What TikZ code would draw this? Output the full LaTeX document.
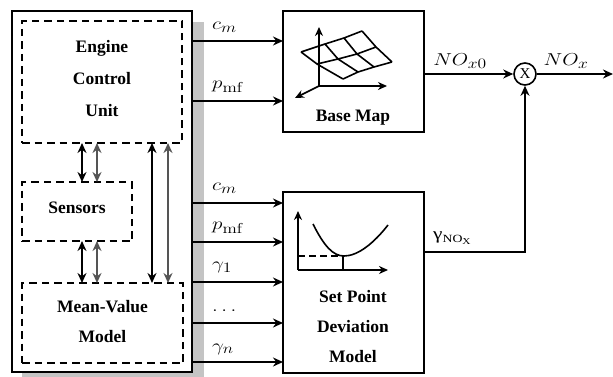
\documentclass[tikz,border=0pt]{standalone}
\usepackage[no-math]{fontspec}
\usepackage{graphicx}
\setmainfont{Liberation Serif}
\DeclareMathSizes{17}{17}{15}{12}
\usetikzlibrary{arrows.meta}
\definecolor{shadowgray}{HTML}{C4C4C4}
\definecolor{arrgray}{HTML}{555555}
\newcommand{\wm}[1]{\scalebox{1.22}[1]{$#1$}}
\begin{document}
\begin{tikzpicture}[x=1pt,y=-1pt,
  lw/.style={line width=1.6pt},
  box/.style={draw,lw,rectangle,inner sep=0pt,outer sep=0pt},
  dbox/.style={draw,lw,dash pattern=on 7.5pt off 5pt,rectangle,inner sep=0pt,outer sep=0pt},
  arr/.style={lw,-{Stealth[length=10pt,width=9pt]}},
  darr/.style={lw,{Stealth[length=10pt,width=9pt]}-{Stealth[length=10pt,width=9pt]}},
  lab/.style={font=\bfseries\fontsize{17.5}{30}\selectfont,align=center,inner sep=0pt},
  ml/.style={font=\fontsize{17}{20}\selectfont,anchor=west,inner sep=0pt},
  cl/.style={font=\fontsize{17}{20}\selectfont,inner sep=0pt},
]
\useasboundingbox (0,0) rectangle (613,377);
% shadow and outer box
\fill[shadowgray] (22,22) rectangle (204,377);
\node[box,fill=white,minimum width=180pt,minimum height=361pt] (outer) at (102,191.5) {};
% inner dashed boxes
\node[dbox,minimum width=160pt,minimum height=122pt] (ecu) at (102,82) {};
\node[lab,font=\bfseries\fontsize{17.5}{32}\selectfont] (ecutext) at (102,79) {Engine\\Control\\Unit};
\node[dbox,minimum width=110pt,minimum height=59pt] (sens) at (77,211.5) {};
\node[lab] (senstext) at (77,207.5) {Sensors};
\node[dbox,minimum width=161pt,minimum height=80pt] (mvm) at (102.5,323) {};
\node[lab] (mvmtext) at (102.5,322) {Mean-Value\\Model};
% inner arrows
\draw[darr] (ecu.south -| 82,0) -- (sens.north -| 82,0);
\draw[darr,arrgray] (ecu.south -| 97,0) -- (sens.north -| 97,0);
\draw[darr] (sens.south -| 82,0) -- (mvm.north -| 82,0);
\draw[darr,arrgray] (sens.south -| 97,0) -- (mvm.north -| 97,0);
\draw[darr] (ecu.south -| 152,0) -- (mvm.north -| 152,0);
\draw[darr,arrgray] (ecu.south -| 168,0) -- (mvm.north -| 168,0);
% base map box
\node[box,minimum width=141pt,minimum height=121pt] (bm) at (353.5,71.5) {};
\node[lab] (bmlab) at (353,118) {Base Map};
% base map icon
\draw[lw,-{Stealth[length=9pt,width=8pt]}] (319,86) -- (319,27);
\draw[lw,-{Stealth[length=9pt,width=8pt]}] (319,86) -- (387,86);
\draw[lw,-{Stealth[length=9pt,width=8pt]}] (319,86) -- (295,98);
\draw[lw,line join=round]
  (301,52) -- (325,44) -- (344,38) -- (362,31)
  (317,64) -- (338,59) -- (357,54) -- (376,47)
  (343,79) -- (358,72) -- (374,67) -- (392,62)
  (301,52) -- (317,64) -- (343,79)
  (325,44) -- (338,59) -- (358,72)
  (344,38) -- (357,54) -- (374,67)
  (362,31) -- (376,47) -- (392,62);
% set point deviation box
\node[box,minimum width=141pt,minimum height=181pt] (spd) at (353.5,282.5) {};
\node[lab] (spdlab) at (353,327) {Set Point\\Deviation\\Model};
% set point icon
\draw[lw,-{Stealth[length=9pt,width=8pt]}] (298,270) -- (298,211);
\draw[lw,-{Stealth[length=9pt,width=8pt]}] (298,270) -- (388,270);
\draw[lw] (313,224) .. controls (324,246) and (333,256) .. (344,256)
  .. controls (358,256) and (374,243) .. (388,225);
\draw[lw,dash pattern=on 7pt off 4pt] (298,256) -- (343,256);
\draw[lw] (343,256) -- (343,270);
% connectors from outer box
\draw[arr] (outer.east |- 0,41) -- (bm.west |- 0,41);
\draw[arr] (outer.east |- 0,101) -- (bm.west |- 0,101);
\draw[arr] (outer.east |- 0,203) -- (spd.west |- 0,203);
\draw[arr] (outer.east |- 0,242) -- (spd.west |- 0,242);
\draw[arr] (outer.east |- 0,282) -- (spd.west |- 0,282);
\draw[arr] (outer.east |- 0,323) -- (spd.west |- 0,323);
\draw[arr] (outer.east |- 0,362) -- (spd.west |- 0,362);
\node[ml] (l1) at (212,27) {\wm{c_m}};
\node[ml] (l2) at (212,87) {\wm{p_{\mathrm{mf}}}};
\node[ml] (l3) at (212,188) {\wm{c_m}};
\node[ml] (l4) at (212,228) {\wm{p_{\mathrm{mf}}}};
\node[ml] (l5) at (212,267) {\wm{\gamma_1}};
\node[ml] (l6) at (212,311) {\wm{\ldotp\ldotp\ldotp}};
\node[ml] (l7) at (212,349) {\wm{\gamma_n}};
% multiplier
\node[draw,lw,circle,minimum size=22pt,inner sep=0pt] (mult) at (525,74) {\fontsize{15}{15}\selectfont X};
\coordinate (out) at (613,74);
\draw[arr] (bm.east |- mult) -- (mult.west);
\draw[arr] (mult.east) -- (out);
\draw[arr] (spd.east |- 0,252) -| (mult.south);
\node[cl] (nox0) at (460,61) {\wm{NO_{x0}}};
\node[cl] (nox) at (566,61) {\wm{NO_x}};
\node[inner sep=0pt,anchor=west] (gnox) at (433,238) {\scalebox{1.25}[1]{\fontsize{17}{17}\selectfont γ\raisebox{-3pt}{\fontsize{11}{11}\selectfont NO\raisebox{-1.5pt}{\fontsize{9}{9}\selectfont X}}}};
\end{tikzpicture}
\end{document}
